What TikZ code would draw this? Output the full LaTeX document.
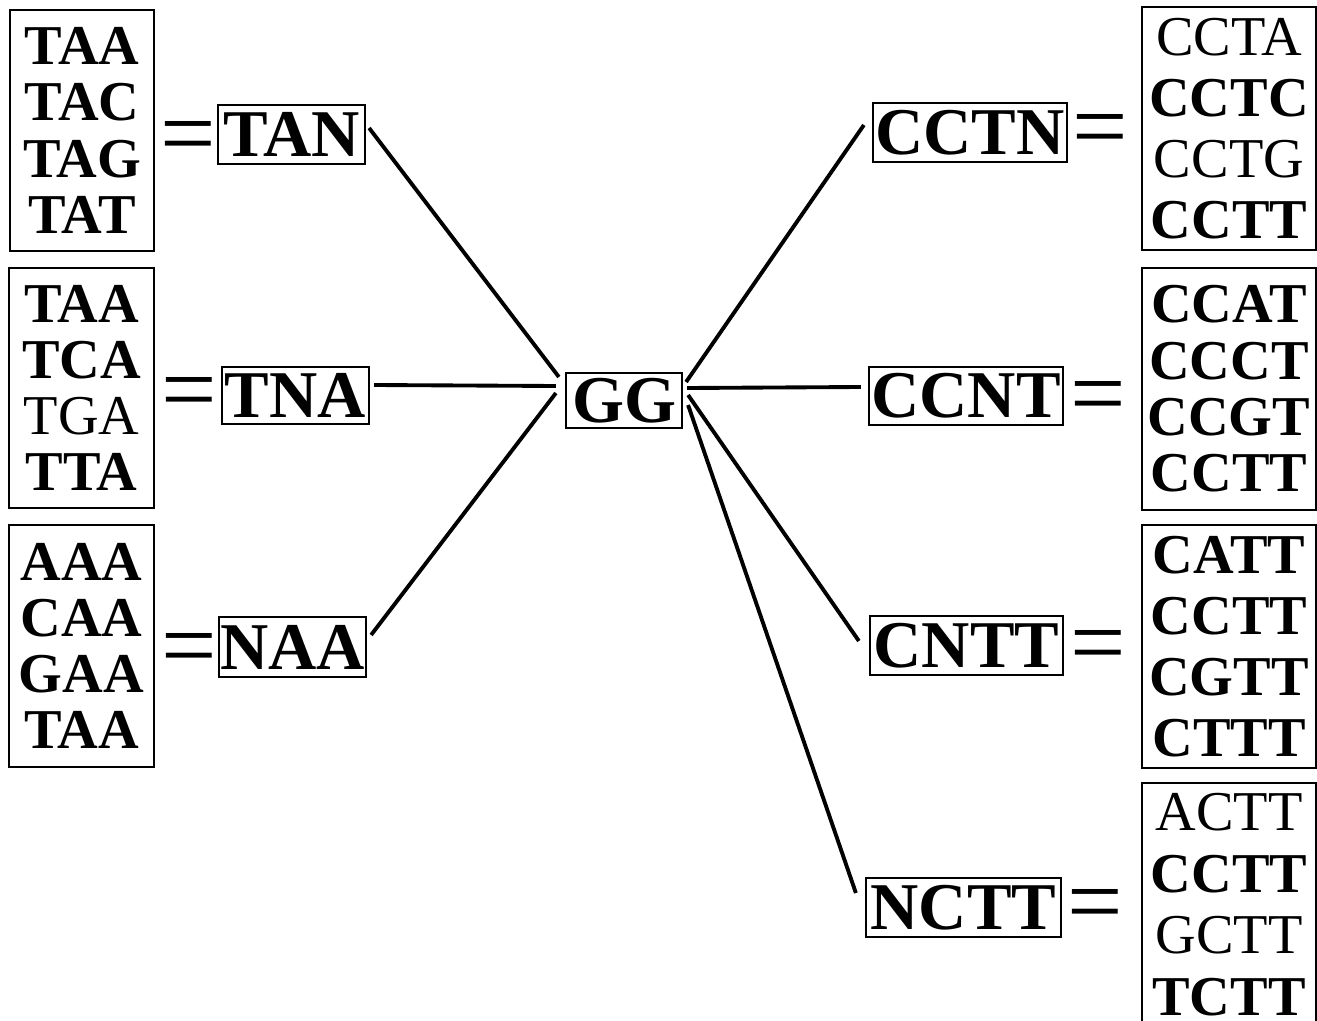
\documentclass[tikz,border=0pt]{standalone}
\usepackage{fontspec}
\setmainfont{Liberation Serif}

\begin{document}
\begin{tikzpicture}[x=0.01cm, y=-0.01cm,
    group/.style={rectangle, draw, line width=0.6pt, inner sep=0pt, align=center, font=\fontsize{16}{#1}\selectfont},
    group/.default=16pt,
    key/.style={rectangle, draw, line width=0.6pt, inner sep=0pt, minimum height=0.59cm, font=\bfseries\fontsize{19}{19}\selectfont},
    eqsign/.style={inner sep=0pt, font=\fontsize{28}{28}\selectfont},
    link/.style={line width=1.1pt}]
    \useasboundingbox (0,0) rectangle (1317,1021);

    % left groups
    \node(gl1) [group, minimum width=1.44cm, minimum height=2.41cm] at (82,130.5) {\textbf{TAA}\\\textbf{TAC}\\\textbf{TAG}\\\textbf{TAT}};
    \node(gl2) [group, minimum width=1.45cm, minimum height=2.40cm] at (81.5,388) {\textbf{TAA}\\\textbf{TCA}\\TGA\\\textbf{TTA}};
    \node(gl3) [group, minimum width=1.45cm, minimum height=2.42cm] at (81.5,646) {\textbf{AAA}\\\textbf{CAA}\\\textbf{GAA}\\\textbf{TAA}};

    \node(eql1) [eqsign] at (188,144) {=};
    \node(eql2) [eqsign] at (189,400) {=};
    \node(eql3) [eqsign] at (189,656) {=};

    \node(tan) [key, minimum width=1.47cm] at (291.5,134.5) {TAN};
    \node(tna) [key, minimum width=1.47cm, minimum height=0.57cm] at (295.5,395.5) {TNA};
    \node(naa) [key, minimum width=1.47cm, minimum height=0.60cm] at (292.5,647) {NAA};

    % centre
    \node(gg) [key, minimum width=1.16cm, minimum height=0.55cm] at (624,400.5) {GG};

    % right side
    \node(cctn) [key, minimum width=1.94cm] at (970,132.5) {CCTN};
    \node(ccnt) [key, minimum width=1.94cm, minimum height=0.58cm] at (966,396) {CCNT};
    \node(cntt) [key, minimum width=1.93cm] at (966.5,645.5) {CNTT};
    \node(nctt) [key, minimum width=1.95cm] at (963.5,907.5) {NCTT};

    \node(eqr1) [eqsign] at (1100,137) {=};
    \node(eqr2) [eqsign] at (1098,404) {=};
    \node(eqr3) [eqsign] at (1098,653) {=};
    \node(eqr4) [eqsign] at (1095,912) {=};

    \node(gr1) [group=17.4pt, minimum width=1.74cm, minimum height=2.43cm] at (1229,128.5) {CCTA\\\textbf{CCTC}\\CCTG\\\textbf{CCTT}};
    \node(gr2) [group, minimum width=1.74cm, minimum height=2.42cm] at (1229,389) {\textbf{CCAT}\\\textbf{CCCT}\\\textbf{CCGT}\\\textbf{CCTT}};
    \node(gr3) [group=17.3pt, minimum width=1.74cm, minimum height=2.43cm] at (1229,646.5) {\textbf{CATT}\\\textbf{CCTT}\\\textbf{CGTT}\\\textbf{CTTT}};
    \node(gr4) [group=17.5pt, minimum width=1.74cm, minimum height=2.43cm] at (1229,904.5) {ACTT\\\textbf{CCTT}\\GCTT\\\textbf{TCTT}};

    \draw[link]
    ([shift={(3,-6.5)}]tan.east) -- ([shift={(-6,-23.5)}]gg.west)
    ([shift={(4,-10.5)}]tna.east) -- ([shift={(-9,-14.5)}]gg.west)
    ([shift={(4,-12)}]naa.east) -- ([shift={(-9,-7.5)}]gg.west)
    ([shift={(3,-18.5)}]gg.east) -- ([shift={(-8,-7.5)}]cctn.west)
    ([shift={(4,-12.5)}]gg.east) -- ([shift={(-7,-9)}]ccnt.west)
    ([shift={(5,-5.5)}]gg.east) -- ([shift={(-10,-4.5)}]cntt.west)
    ([shift={(5,4.5)}]gg.east) -- ([shift={(-9,-14.5)}]nctt.west);
\end{tikzpicture}
\end{document}
